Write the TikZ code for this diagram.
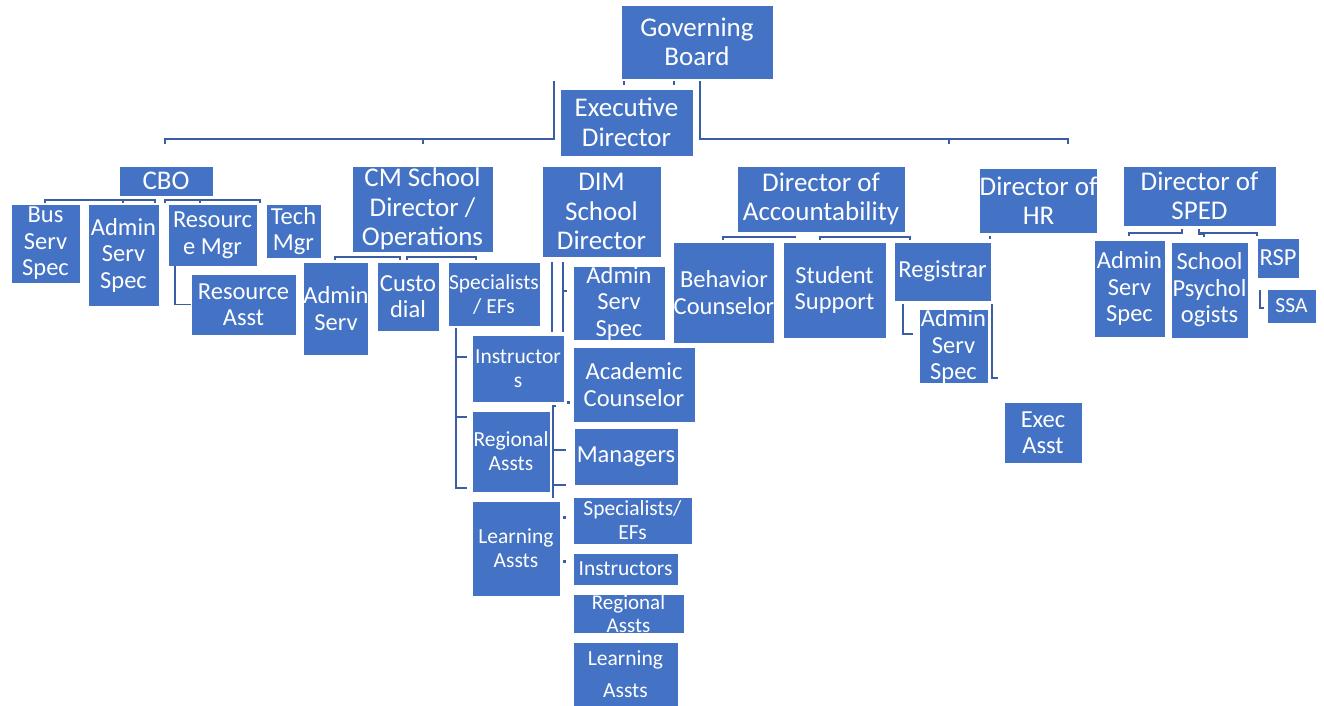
\documentclass[tikz,border=0pt]{standalone}
\usepackage{fontspec}
\setmainfont{Carlito}
\definecolor{boxblue}{HTML}{4472C4}
\definecolor{lineblue}{HTML}{3A5DA6}
\tikzset{
  box/.style={fill=boxblue, draw=white, line width=0.8pt, inner sep=0pt,
    text=white, align=center},
  big/.style={box, font=\fontsize{27}{29.5}\selectfont},
  mid/.style={box, font=\fontsize{24.5}{26.5}\selectfont},
  sml/.style={box, font=\fontsize{21.5}{24}\selectfont},
  link/.style={draw=lineblue, line width=2.4pt},
  thin/.style={draw=lineblue, line width=1.8pt},
  dot/.style={fill=lineblue, minimum size=3pt, inner sep=0pt}
}
% \orgbox{style}{name}{left}{top}{right}{bottom}{text}
\newcommand{\orgbox}[7]{%
  \node[#1, minimum width={(#5-#3)*1pt}, minimum height={(#6-#4)*1pt}]
    (#2) at ({(#3+#5)/2},{(#4+#6)/2}) {#7};}
\begin{document}
\begin{tikzpicture}[x=1pt, y=-1pt]
\useasboundingbox (0,0) rectangle (1324,706);

% ---- top of the chart
\orgbox{big}{gb}{621}{5}{773}{79}{Governing\\Board}
\orgbox{big}{ed}{560}{89}{693}{156}{Executive\\Director}

% ---- CBO branch
\orgbox{big}{cbo}{119}{166}{213}{196}{CBO}
\orgbox{mid}{bss}{11}{204}{80}{283}{Bus\\Serv\\Spec}
\orgbox{mid}{ass1}{88}{204}{159}{306}{Admin\\Serv\\Spec}
\orgbox{mid}{rm}{168}{204}{257}{266}{Resourc\\e Mgr}
\orgbox{mid}{tm}{266}{204}{321}{258}{Tech\\Mgr}
\orgbox{mid}{ra}{191}{274}{296}{335}{Resource\\Asst}

% ---- CM school branch
\orgbox{big}{cm}{352}{166}{493}{252}{CM School\\Director /\\Operations}
\orgbox{mid}{as2}{304}{262}{368}{355}{Admin\\Serv}
\orgbox{mid}{cus}{377}{262}{439}{331}{Custo\\dial}
\orgbox{sml}{spc1}{448}{262}{540}{326}{Specialists\\/ EFs}
\orgbox{sml}{ins1}{472}{335}{564}{402}{Instructor\\s}
\orgbox{sml}{reg1}{472}{411}{550}{492}{Regional\\Assts}
\orgbox{sml}{la1}{472}{501}{560}{596}{Learning\\Assts}

% ---- DIM school branch
\orgbox{big}{dim}{542}{166}{661}{257}{DIM\\School\\Director}
\orgbox{mid}{ass3}{573}{268}{665}{338}{Admin\\Serv\\Spec}
\orgbox{mid}{ac}{573}{347}{695}{422}{Academic\\Counselor}
\orgbox{mid}{mg}{574}{428}{678}{485}{Managers}
\orgbox{sml}{spc2}{573}{497}{692}{544}{Specialists/\\EFs}
\orgbox{sml}{ins2}{573}{553}{678}{585}{Instructors}
\orgbox{sml, font=\fontsize{21}{23}\selectfont}{reg2}{573}{594}{684}{633}{Regional\\Assts}
\orgbox{sml, font=\fontsize{21.5}{32}\selectfont}{la2}{573}{642}{678}{706}{Learning\\Assts}

% ---- accountability branch
\orgbox{big}{doa}{737}{166}{905}{232}{Director of\\Accountability}
\orgbox{mid}{bc}{674}{242}{774}{343}{Behavior\\Counselor}
\orgbox{mid}{ss}{783}{242}{886}{338}{Student\\Support}
\orgbox{mid}{rg}{894}{242}{991}{301}{Registrar}
\orgbox{mid}{ass4}{919}{310}{988}{383}{Admin\\Serv\\Spec}

% ---- HR branch
\orgbox{big}{hr}{980}{168}{1097}{233}{Director of\\HR}
\orgbox{mid}{ea}{1004}{402}{1082}{463}{Exec\\Asst}

% ---- SPED branch
\orgbox{big}{sped}{1123}{166}{1276}{226}{Director of\\SPED}
\orgbox{mid}{ass5}{1094}{240}{1165}{337}{Admin\\Serv\\Spec}
\orgbox{mid}{sp}{1171}{242}{1248}{338}{School\\Psychol\\ogists}
\orgbox{mid}{rsp}{1257}{238}{1299}{278}{RSP}
\orgbox{sml}{ssa}{1267}{289}{1316}{323}{SSA}

% ---- connector end points
\coordinate (mainL) at (165,144);
\coordinate (mainR) at (1068,144);
\coordinate (edL) at (554,81);
\coordinate (edR) at (700,81);

% main bar under the executive director
\path[link] (mainL) -- (165,139) -- (554,139) -- (edL);
\path[link] (edR) -- (700,139) -- (1068,139) -- (mainR);
\path[thin] (423,139) -- (423,144);
\path[thin] (949,139) -- (949,144);
\path[thin] (624,81) -- (624,85);
\path[thin] (674,81) -- (674,85);

% CBO reports
\path[thin] (45,203) -- (45,200) -- (155,200) -- (155,203);
\path[thin] (123,200) -- (123,203);
\path[thin] (165,203) -- (165,200) -- (260,200) -- (260,203);
\path[thin] (200,200) -- (200,203);
\path[thin] (rm.south west) ++(7,0) |- (ra.west);

% CM reports
\path[thin] (335,260) -- (335,257) -- (400,257) -- (400,260);
\path[thin] (407,260) -- (407,257) -- (476,257) -- (476,260);
\path[thin] (456,328) -- (456,488) -- (467,488);
\path[thin] (456,357) -- (467,357);
\path[thin] (456,417) -- (467,417);

% DIM reports
\path[thin] (552,262) -- (552,332);
\path[thin] (563,262) -- (563,332);
\path[thin] (563,291) -- (567,291);
\path[thin] (556,406) -- (553,406) -- (553,498);
\path[thin] (553,450) -- (566,450);
\path[thin] (553,485) -- (566,485);
\node[dot] (d1) at (568,402) {};
\node[dot] (d2) at (564,517) {};
\node[dot] (d3) at (564,561) {};

% accountability reports
\path[thin] (723,240) -- (723,237) -- (796,237);
\path[thin] (820,240) -- (820,237) -- (910,237) -- (910,240);
\path[thin] (903,304) -- (903,334) -- (913,334);
\path[thin] (992,304) -- (992,378) -- (998,378);

% HR
\path[thin] (990,236) -- (990,239);

% SPED reports
\path[thin] (1129,236) -- (1129,233) -- (1182,233) -- (1182,229);
\path[thin] (1199,229) -- (1199,234) -- (1204,234) -- (1204,237);
\path[thin] (1199,233) -- (1257,233) -- (1257,236);
\path[thin] (1260,290) -- (1260,308) -- (1264,308);
\end{tikzpicture}
\end{document}
